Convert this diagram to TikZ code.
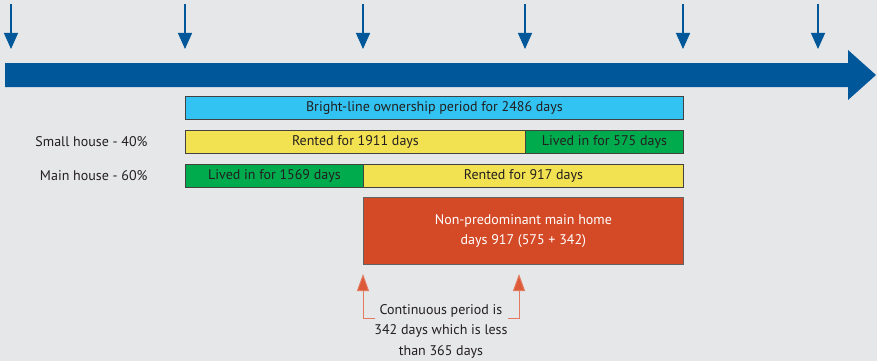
\documentclass[tikz,border=0pt]{standalone}
\usepackage{fontspec}
\setmainfont{PT Sans}
\usetikzlibrary{arrows.meta}
\definecolor{bg}{HTML}{E6E7E9}
\definecolor{tblue}{HTML}{00579A}
\definecolor{tcyan}{HTML}{33C3F2}
\definecolor{tyellow}{HTML}{F2E150}
\definecolor{tgreen}{HTML}{00AB4E}
\definecolor{tred}{HTML}{D44A27}
\definecolor{torange}{HTML}{DD5A38}
\definecolor{tline}{HTML}{E27A62}
\definecolor{ttext}{HTML}{231F20}
\tikzset{
  bar/.style={draw=ttext!85, line width=0.9pt, minimum height=23pt, inner sep=0pt, anchor=north west, text=ttext, font=\fontsize{14}{16}\selectfont},
  tickarrow/.style={draw=tblue, line width=1.3pt, -{Triangle[width=14pt,length=16pt]}},
  markarrow/.style={draw=tline, line width=1pt, -{Triangle[width=12pt,length=17pt,fill=torange]}},
  lbl/.style={text=ttext, font=\fontsize{14}{16}\selectfont},
}
\begin{document}
\begin{tikzpicture}[x=1pt,y=-1pt]
\fill[bg] (0,0) rectangle (877,361);
\useasboundingbox (0,0) rectangle (877,361);
% main timeline arrow
\fill[tblue] (5,63) -- (848,63) -- (848,50) -- (876,75) -- (848,100) -- (848,87) -- (5,87) -- cycle;
% tick arrows
\foreach \x/\n in {11/a,185/b,363/c,525/d,683/e,818/f}{
  \coordinate (t\n) at (\x,4);
  \coordinate (h\n) at (\x,49);
  \draw[tickarrow] (t\n) -- (h\n);
}
% bars
\node[bar, fill=tcyan, minimum width=498pt] (own) at (185,96) {Bright-line ownership period for 2486 days};
\node[bar, fill=tyellow, minimum width=340pt] (srent) at (185,130) {Rented for 1911 days};
\node[bar, fill=tgreen, minimum width=158pt] (slive) at (525,130) {Lived in for 575 days};
\node[bar, fill=tgreen, minimum width=178pt] (mlive) at (185,164) {Lived in for 1569 days};
\node[bar, fill=tyellow, minimum width=320pt] (mrent) at (363,164) {Rented for 917 days};
\node[lbl, anchor=east] (small) at (151,142) {Small house - 40\%};
\node[lbl, anchor=east] (main) at (151,176) {Main house - 60\%};
% red box
\node[draw=ttext!70, line width=0.8pt, fill=tred, minimum width=320pt, minimum height=67pt, inner sep=0pt, anchor=north west, text=white, align=center, font=\fontsize{14}{20}\selectfont] (nonpred) at (363,197) {Non-predominant main home\\days 917 (575 + 342)};
% note
\node[lbl, align=center, font=\fontsize{14}{20.5}\selectfont] (note) at (441,331) {Continuous period is\\342 days which is less\\than 365 days};
\coordinate (lfoot) at (375,318);
\coordinate (lcorner) at (363,318);
\coordinate (ltip) at (363,274);
\coordinate (rfoot) at (508,318);
\coordinate (rcorner) at (519,318);
\coordinate (rtip) at (519,274);
\draw[markarrow] (lfoot) -- (lcorner) -- (ltip);
\draw[markarrow] (rfoot) -- (rcorner) -- (rtip);
\end{tikzpicture}
\end{document}
